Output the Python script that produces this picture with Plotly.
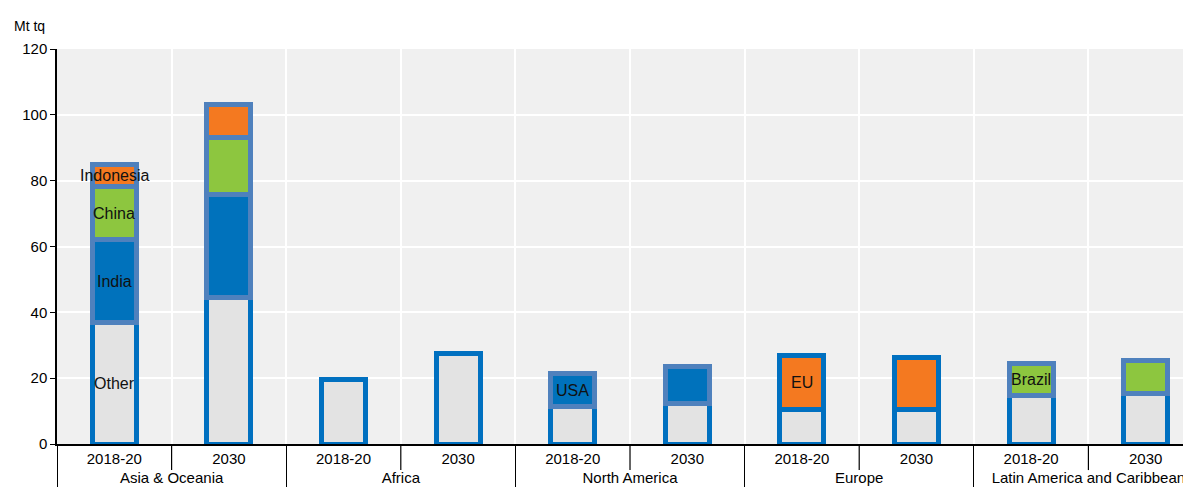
import plotly.graph_objects as go

regions = ["Asia & Oceania", "Asia & Oceania", "Africa", "Africa", "North America", "North America",
           "Europe", "Europe", "Latin America and Caribbean", "Latin America and Caribbean"]
periods = ["2018-20", "2030"] * 5

other = [36.8, 44.4, 19.5, 27.4, 11.3, 12.4, 10.5, 10.5, 14.6, 15.2]
india = [25.2, 31.3, None, None, None, None, None, None, None, None]
china = [16.2, 17.5, None, None, None, None, None, None, None, None]
indonesia = [6.6, 10.0, None, None, None, None, None, None, None, None]
usa = [None, None, None, None, 10.0, 11.0, None, None, None, None]
eu = [None, None, None, None, None, None, 16.5, 15.8, None, None]
brazil = [None, None, None, None, None, None, None, None, 9.9, 10.2]

series = [
    ("Other", other, "#E3E3E3", "#0070C0"),
    ("India", india, "#0072BC", "#4F81BD"),
    ("China", china, "#8DC63F", "#4F81BD"),
    ("Indonesia", indonesia, "#F47920", "#4F81BD"),
    ("USA", usa, "#0072BC", "#4F81BD"),
    ("EU", eu, "#F47920", "#0070C0"),
    ("Brazil", brazil, "#8DC63F", "#4F81BD"),
]

# which segment gets a text label at which bar index
labels = {"Other": 0, "India": 0, "China": 0, "Indonesia": 0, "USA": 4, "EU": 6, "Brazil": 8}

FONT = "Liberation Sans, Arial, sans-serif"

fig = go.Figure()
for name, vals, fill, edge in series:
    fig.add_trace(go.Bar(
        x=[regions, periods], y=vals, name=name,
        marker=dict(color=fill, line=dict(color=edge, width=5)),
        width=0.385, showlegend=False,
    ))

# annotations placed at segment centres computed from the data
base = [0.0] * len(other)
annots = []
for name, vals, fill, edge in series:
    for i, v in enumerate(vals):
        if v is None:
            continue
        if labels.get(name) == i:
            annots.append(dict(x=i, y=base[i] + v / 2, xref="x", yref="y", text=name,
                               showarrow=False, font=dict(family=FONT, size=16, color="#111111")))
        base[i] += v

annots.append(dict(x=0, y=1.0, xref="paper", yref="paper", xshift=-45, yshift=23,
                   text="Mt tq", showarrow=False, xanchor="left", yanchor="middle",
                   font=dict(family=FONT, size=14, color="#000000")))

# small ticks between the two periods of each region
shapes = []
for g in range(5):
    xb = 2 * g + 0.5
    shapes.append(dict(type="line", xref="x", yref="paper", x0=xb, x1=xb, y0=0, y1=-0.066,
                       line=dict(color="#000000", width=1.2)))

# page body has an 8px margin, so the figure is offset to compensate;
# the chart runs past the right edge of the window as in the reference
fig.update_layout(
    width=1191, height=484,
    margin=dict(l=49, r=0, t=41, b=48),
    paper_bgcolor="white", plot_bgcolor="#F0F0F0",
    barmode="stack", bargap=0.6,
    font=dict(family=FONT, size=15, color="#000000"),
    annotations=annots, shapes=shapes,
)
fig.update_xaxes(
    type="multicategory", range=[-0.5, 9.465], automargin=False,
    showgrid=True, gridcolor="white", gridwidth=2, tickson="boundaries",
    ticks="", showline=True, linecolor="#000000", linewidth=1.5,
    showdividers=True, dividercolor="#000000", dividerwidth=1.2,
    tickfont=dict(family=FONT, size=15, color="#000000"),
)
fig.update_yaxes(
    range=[0, 120], tickvals=[0, 20, 40, 60, 80, 100, 120], automargin=False,
    showgrid=True, gridcolor="white", gridwidth=2, zeroline=False,
    showline=True, linecolor="#000000", linewidth=1.5,
    ticks="outside", ticklen=5, tickcolor="#000000",
    tickfont=dict(family=FONT, size=15, color="#000000"),
)

fig.write_html("out.html")
